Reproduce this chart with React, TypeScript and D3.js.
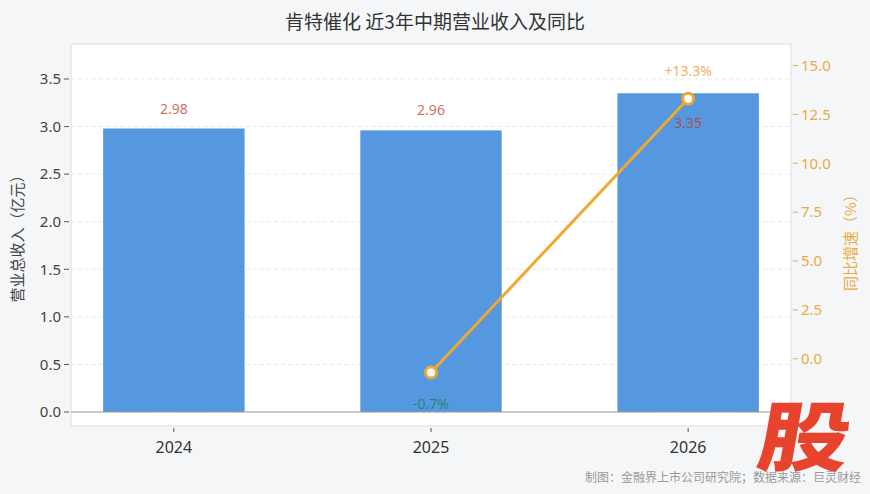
import React from 'react';
import * as d3 from 'd3';

const years = ['2024', '2025', '2026'];
const revenue = [2.98, 2.96, 3.35];
const growth = [null, -0.7, 13.3];
const revTicks = [0, 0.5, 1, 1.5, 2, 2.5, 3, 3.5];
const growthTicks = [0, 2.5, 5, 7.5, 10, 12.5, 15];

const W = 870;
const H = 494;
const panel = { left: 71, right: 791, top: 44, bottom: 426 };

const FONT = '"Noto Sans", "Noto Sans CJK SC", sans-serif';
const CJK = '"Noto Sans CJK SC", sans-serif';
const BAR = '#5598e0';
const LINE = '#f0a830';
const AXIS_ORANGE = '#e9ab45';

const App: React.FC = () => {
    // x positions: category index mapped with a little extra room on both sides
    const x = d3.scaleLinear().domain([-0.4, 2.4]).range([panel.left, panel.right]);
    const barW = x(0.55) - x(0);
    const yL = d3.scaleLinear().domain([-0.147, 3.868]).range([panel.bottom, panel.top]);
    const yR = d3.scaleLinear().domain([-3.44, 16.1]).range([panel.bottom, panel.top]);

    const linePts = growth
        .map((g, i) => (g === null ? null : ([x(i), yR(g)] as [number, number])))
        .filter((p): p is [number, number] => p !== null);
    const linePath = d3.line()(linePts) || '';

    const revLabelOffset = [-19, -20, 30];

    return (
        <svg width={W} height={H} style={{ position: 'absolute', left: 0, top: 0, display: 'block' }}
            fontFamily={FONT}>
            <rect width={W} height={H} fill="#f5f6f8" />
            <text x={W / 2} y={29} textAnchor="middle" fontSize={19} fill="#333"
                fontFamily={CJK}>肯特催化 近3年中期营业收入及同比</text>

            {/* plot panel */}
            <rect x={panel.left} y={panel.top} width={panel.right - panel.left}
                height={panel.bottom - panel.top} fill="#fff" stroke="#dcdde0" strokeWidth={1} />

            {/* grid */}
            {revTicks.map(t => (
                <line key={'g' + t} x1={panel.left} x2={panel.right} y1={yL(t)} y2={yL(t)}
                    stroke="#e3e3e3" strokeDasharray="4,3" strokeWidth={0.8} />
            ))}

            {/* bars */}
            {revenue.map((v, i) => (
                <rect key={'b' + i} x={x(i) - barW / 2} y={yL(v)} width={barW}
                    height={yL(0) - yL(v)} fill={BAR} />
            ))}

            {/* zero line */}
            <line x1={panel.left} x2={panel.right} y1={yL(0)} y2={yL(0)} stroke="#999" strokeWidth={1.2} />

            {/* left axis */}
            {revTicks.map(t => (
                <g key={'l' + t}>
                    <line x1={panel.left - 7} x2={panel.left - 2} y1={yL(t)} y2={yL(t)} stroke="#555" />
                    <text x={panel.left - 10} y={yL(t)} dy="0.35em" textAnchor="end" fontSize={15} fill="#444">
                        {t.toFixed(1)}
                    </text>
                </g>
            ))}
            <text transform={`translate(23,${(panel.top + panel.bottom) / 2}) rotate(-90)`}
                textAnchor="middle" fontSize={15} fill="#444"
                fontFamily={CJK}>营业总收入（亿元）</text>

            {/* right axis */}
            {growthTicks.map(t => (
                <g key={'r' + t}>
                    <line x1={panel.right + 2} x2={panel.right + 7} y1={yR(t)} y2={yR(t)} stroke={AXIS_ORANGE} />
                    <text x={panel.right + 10} y={yR(t)} dy="0.35em" textAnchor="start" fontSize={15} fill={AXIS_ORANGE}>
                        {t.toFixed(1)}
                    </text>
                </g>
            ))}
            <text transform={`translate(856,${(panel.top + panel.bottom) / 2 + 4}) rotate(-90)`}
                textAnchor="middle" fontSize={15} fill={AXIS_ORANGE}
                fontFamily={CJK}>同比增速（%）</text>

            {/* x axis */}
            {years.map((yr, i) => (
                <g key={'x' + yr}>
                    <line x1={x(i)} x2={x(i)} y1={panel.bottom + 2} y2={panel.bottom + 6} stroke="#555" />
                    <text x={x(i)} y={447} dy="0.35em" textAnchor="middle" fontSize={16} fill="#333">{yr}</text>
                </g>
            ))}

            {/* revenue labels */}
            {revenue.map((v, i) => (
                <text key={'rl' + i} x={x(i)} y={yL(v) + revLabelOffset[i]} dy="0.35em" textAnchor="middle"
                    fontSize={14} fill="#c0392b" fillOpacity={0.75}>{v.toFixed(2)}</text>
            ))}

            {/* growth line */}
            <path d={linePath} fill="none" stroke={LINE} strokeWidth={3} />
            {linePts.map((p, i) => (
                <circle key={'m' + i} cx={p[0]} cy={p[1]} r={5.5} fill="#fff" stroke={LINE} strokeWidth={3} />
            ))}
            {growth.map((g, i) => g === null ? null : (
                <text key={'gl' + i} x={x(i)} y={yR(g) + (g >= 0 ? -28 : 32)} dy="0.35em" textAnchor="middle"
                    fontSize={14} fill={g >= 0 ? '#e9a43a' : '#17805a'} fillOpacity={g >= 0 ? 0.85 : 0.8}>
                    {(g >= 0 ? '+' : '') + g.toFixed(1) + '%'}
                </text>
            ))}

            {/* watermark */}
            <g transform="translate(800,465) skewX(-10) scale(1.2,1)">
                <text x={0} y={0} textAnchor="middle" fontSize={76} fontWeight={900} fill="#e8432c"
                    fontFamily={CJK}>股</text>
            </g>

            <text x={861} y={478} dy="0.35em" textAnchor="end" fontSize={12} fill="#9a9a9a"
                fontFamily={CJK}>制图：金融界上市公司研究院；数据来源：巨灵财经</text>
        </svg>
    );
};

export default App;
